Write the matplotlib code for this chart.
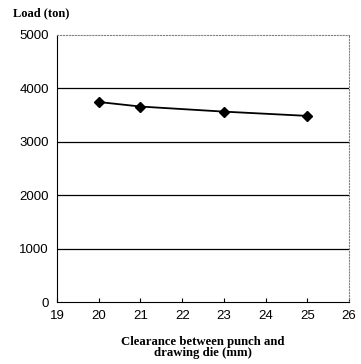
import matplotlib.pyplot as plt

clearance = [20, 21, 23, 25]
load = [3745, 3660, 3565, 3485]
x_ticks = [19, 20, 21, 22, 23, 24, 25, 26]
y_ticks = [0, 1000, 2000, 3000, 4000, 5000]

fig = plt.figure(figsize=(3.61, 3.64), dpi=100)
ax = fig.add_axes([0.158, 0.170, 0.809, 0.734])

ax.plot(clearance, load, color='black', lw=1.3, marker='D', markersize=5)

ax.set_xlim(19, 26)
ax.set_ylim(0, 5000)
ax.set_xticks(x_ticks)
ax.set_yticks(y_ticks)
ax.tick_params(axis='both', labelsize=9.5, length=3, direction='in', pad=6)
ax.tick_params(axis='y', length=0)
for lab in ax.get_xticklabels() + ax.get_yticklabels():
    lab.set_family('Liberation Sans')

for v in y_ticks[1:-1]:
    ax.axhline(v, color='black', lw=0.9, zorder=0)

ax.spines['top'].set_linestyle(':')
ax.spines['top'].set_color('gray')
ax.spines['right'].set_linestyle(':')
ax.spines['right'].set_color('gray')
for s in ['left', 'bottom']:
    ax.spines[s].set_linewidth(0.8)

fig.text(0.035, 0.955, 'Load (ton)', family='Liberation Serif', fontweight='bold', fontsize=9)
ax.set_xlabel('Clearance between punch and\ndrawing die (mm)', family='Liberation Serif',
              fontweight='bold', fontsize=9.2, linespacing=0.9, labelpad=10)

fig.savefig('out.png', dpi=100)
